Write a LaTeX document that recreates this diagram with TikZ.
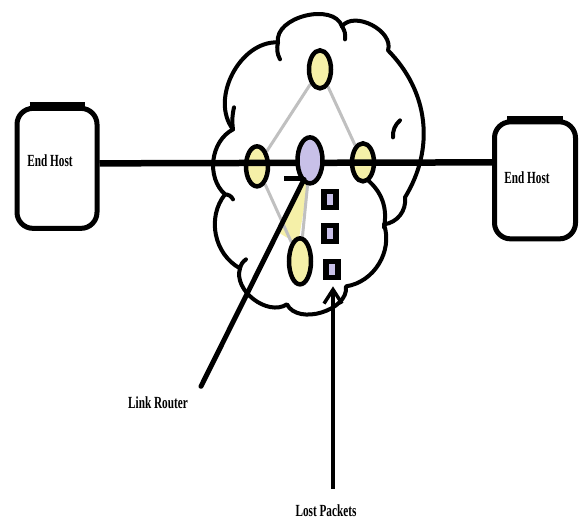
\documentclass[tikz,border=0pt]{standalone}
\usepackage{fontspec}
\setmainfont{Liberation Serif}
\usetikzlibrary{shapes.geometric,arrows.meta}
\definecolor{yel}{RGB}{245,240,168}
\definecolor{pur}{RGB}{200,192,232}
\definecolor{lgray}{RGB}{192,192,192}
\pgfdeclarelayer{bgzero}
\pgfdeclarelayer{bgone}
\pgfsetlayers{bgzero,bgone,main}
\tikzset{
  hostbox/.style={draw,line width=5pt,rounded corners=16pt,minimum width=80pt,minimum height=120pt,inner sep=0pt},
  lbl/.style={inner sep=0pt,font=\bfseries\fontsize{17}{18}\selectfont},
  yellownode/.style={ellipse,draw,line width=4.5pt,fill=yel,minimum width=22pt,minimum height=38pt,inner sep=0pt},
  purplenode/.style={ellipse,draw,line width=4.5pt,fill=pur,minimum width=25pt,minimum height=46pt,inner sep=0pt},
  packet/.style={rectangle,draw,line width=5.5pt,fill=pur,minimum width=12pt,minimum height=16pt,inner sep=0pt},
  cloudline/.style={line width=4pt,line join=round,line cap=round},
  grayline/.style={draw=lgray,line width=3pt},
  mainline/.style={line width=6.5pt},
  pointer/.style={line width=5pt,line cap=round}
}
\newcommand{\cond}[1]{\scalebox{0.66}[1]{#1}}
\begin{document}
\begin{tikzpicture}[x=1pt,y=-1pt]
\begin{pgfonlayer}{bgzero}
\useasboundingbox[fill=white] (0,0) rectangle (579,521);
\end{pgfonlayer}
% hosts
\node[hostbox] (hostL) at (57,166) {};
\node[lbl] (hostLt) at (50,158) {\cond{End Host}};
\node[hostbox,minimum width=81pt,minimum height=117pt] (hostR) at (535,178) {};
\node[lbl] (hostRt) at (527,175) {\cond{End Host}};
\draw[line width=7pt] ([xshift=15pt]hostL.north west) -- ([xshift=-15pt]hostL.north east);
\draw[line width=7pt] ([xshift=15pt]hostR.north west) -- ([xshift=-15pt]hostR.north east);
% cloud
\begin{pgfonlayer}{bgzero}
\draw[cloudline,fill=white] (233,127) to[bend left=65] (278,40) to[bend left=85] (342,24)
  to[bend left=80] (388,48) to[bend left=38] (405,195) to[bend left=45] (384,222)
  to[bend left=50] (346,284) to[bend left=80] (287,302) to[bend left=70] (240,266)
  to[bend left=50] (225,192) to[bend left=55] cycle;
\end{pgfonlayer}
\draw[cloudline] (278,40) to[bend right=20] (280,57);
\draw[cloudline] (233,127) to[bend left=10] (234,105);
\draw[cloudline] (342,24) to[bend left=20] (345,37);
\draw[cloudline] (393,135) to[bend left=25] (400,118);
\draw[cloudline] (225,192) to[bend left=30] (233,197);
\draw[cloudline] (240,266) to[bend left=20] (246,257);
\draw[cloudline] (367,177) to[bend left=30] (384,225);
% routers
\node[yellownode,minimum height=38pt] (rTop) at (320,67) {};
\node[yellownode,minimum height=40pt] (rLeft) at (257,164) {};
\node[yellownode,minimum height=38pt] (rRight) at (363,160) {};
\node[yellownode,minimum height=46pt] (rBot) at (300,259) {};
% main link
\draw[mainline] (hostL.east |- 0,161) -- (hostR.west |- 0,160);
\node[purplenode] (rMid) at (310,158) {};
% gray links and yellow wedge behind nodes
\begin{pgfonlayer}{bgone}
\fill[yel] (303,178) -- (308,182) -- (298,242) -- (280,231) -- cycle;
\draw[grayline] (rTop) -- (rLeft);
\draw[grayline] (rTop) -- (rRight);
\draw[grayline] (rLeft) -- (rBot);
\draw[grayline] (rMid) -- (rBot);
\end{pgfonlayer}
% short dash
\coordinate (dashL) at (284,176);
\coordinate (dashR) at (302,176);
\draw[line width=5pt] (dashL) -- (dashR);
% packets
\node[packet] (pk1) at (330,197) {};
\node[packet] (pk2) at (330,231) {};
\node[packet] (pk3) at (332,267) {};
% pointers
\coordinate (lrTop) at (304,177);
\coordinate (lrEnd) at (201,384);
\draw[pointer] (lrTop) -- (lrEnd);
\coordinate (lpEnd) at (333,487);
\coordinate (lpTop) at (333,284);
\draw[line width=4.5pt,{Straight Barb[length=14pt,width=18pt,line width=3.5pt]}-] (lpTop) -- (lpEnd);
% labels
\node[lbl] (lrText) at (158,400) {\cond{Link Router}};
\node[lbl] (lpText) at (326,508) {\cond{Lost Packets}};
\end{tikzpicture}
\end{document}
